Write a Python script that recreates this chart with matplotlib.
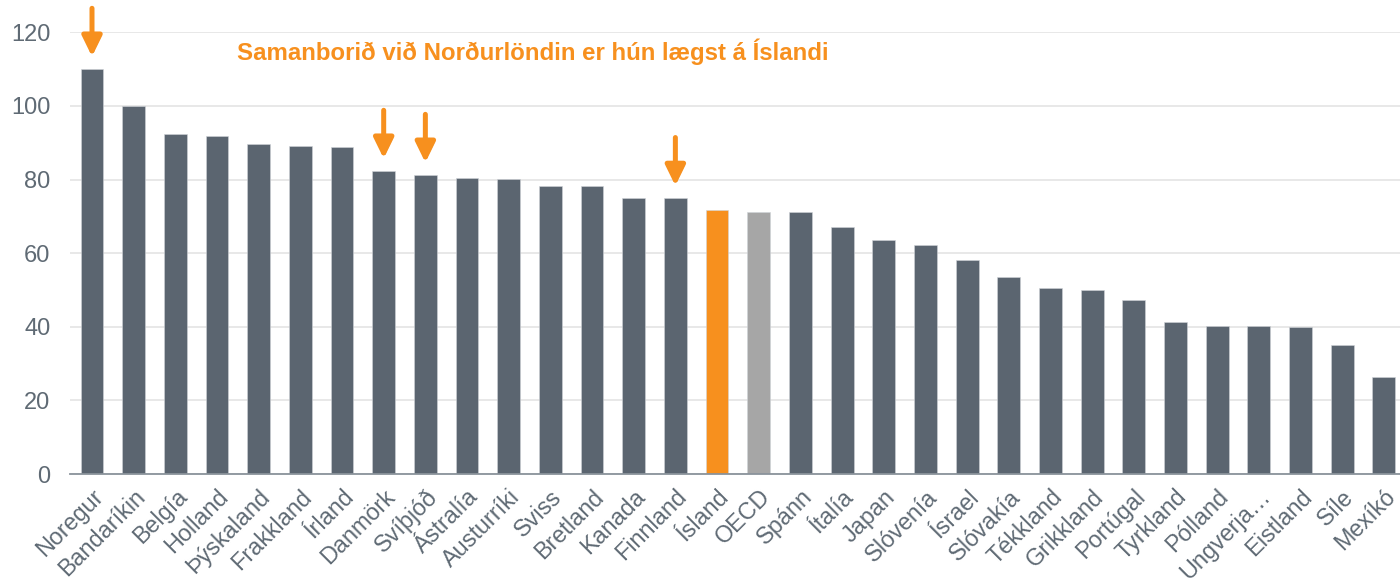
import matplotlib
matplotlib.use("Agg")
import matplotlib.pyplot as plt
from matplotlib import patheffects as pe

categories = ["Noregur", "Bandaríkin", "Belgía", "Holland", "Þýskaland", "Frakkland",
              "Írland", "Danmörk", "Svíþjóð", "Ástralía", "Austurríki", "Sviss",
              "Bretland", "Kanada", "Finnland", "Ísland", "OECD", "Spánn", "Ítalía",
              "Japan", "Slóvenía", "Ísrael", "Slóvakía", "Tékkland", "Grikkland",
              "Portúgal", "Tyrkland", "Pólland", "Ungverja…", "Eistland", "Síle", "Mexíkó"]
values = [110.0, 100.0, 92.3, 91.9, 89.6, 89.2, 88.9, 82.3, 81.2, 80.4, 80.2, 78.3,
          78.2, 75.0, 74.9, 71.7, 71.1, 71.2, 67.1, 63.6, 62.2, 58.2, 53.5, 50.5,
          50.0, 47.3, 41.3, 40.2, 40.2, 39.9, 35.0, 26.4]
highlighted = ["Noregur", "Danmörk", "Svíþjóð", "Finnland"]
yticks = [0, 20, 40, 60, 80, 100, 120]
annotation = "Samanborið við Norðurlöndin er hún lægst á Íslandi"

DARK = "#5b6570"
ORANGE = "#f7901e"
GREY = "#a6a6a6"
TEXT = "#5f6a74"

colors = []
for c in categories:
    if c == "Ísland":
        colors.append(ORANGE)
    elif c == "OECD":
        colors.append(GREY)
    else:
        colors.append(DARK)

plt.rcParams['font.family'] = ['Liberation Sans', 'DejaVu Sans']

fig = plt.figure(figsize=(14, 5.86), dpi=100)
ax = fig.add_axes([0.05, 0.191, 0.95, 0.754])

x = list(range(len(categories)))
ax.bar(x, values, width=0.55, color=colors, edgecolor="#d0d4d8", linewidth=0.4, zorder=3)

ax.set_ylim(0, 120)
ax.set_xlim(-0.528, 31.39)
ax.set_yticks(yticks)
ax.set_yticklabels([str(t) for t in yticks], fontsize=17, color=TEXT)
ax.yaxis.grid(True, color="#e4e4e4", lw=1.2, zorder=0)
ax.set_axisbelow(True)
for s in ["left", "right", "top"]:
    ax.spines[s].set_visible(False)
ax.spines["bottom"].set_color("#8a939b")
ax.spines["bottom"].set_linewidth(1.3)
ax.spines["bottom"].set_zorder(4)
ax.tick_params(axis="both", length=0)
ax.tick_params(axis="y", pad=14)

ax.set_xticks(x)
ax.set_xticklabels(categories, rotation=45, ha="right", rotation_mode="anchor",
                   fontsize=16.8, color=TEXT)
ax.tick_params(axis="x", pad=8)

for name in highlighted:
    i = categories.index(name)
    v = values[i]
    ax.annotate("", xy=(i, v + 3.4), xytext=(i, v + 16.5),
                arrowprops=dict(arrowstyle="-|>,head_length=0.45,head_width=0.22",
                                lw=3.6, color=ORANGE, mutation_scale=27,
                                shrinkA=0, shrinkB=0,
                                path_effects=[pe.SimplePatchShadow(offset=(1, -1.5), alpha=0.25),
                                              pe.Normal()]),
                annotation_clip=False, zorder=5)

ax.text(10.58, 114.7, annotation, fontsize=17.3, fontweight="bold", color=ORANGE,
        ha="center", va="center", zorder=5)

fig.savefig("out.png", dpi=100)
